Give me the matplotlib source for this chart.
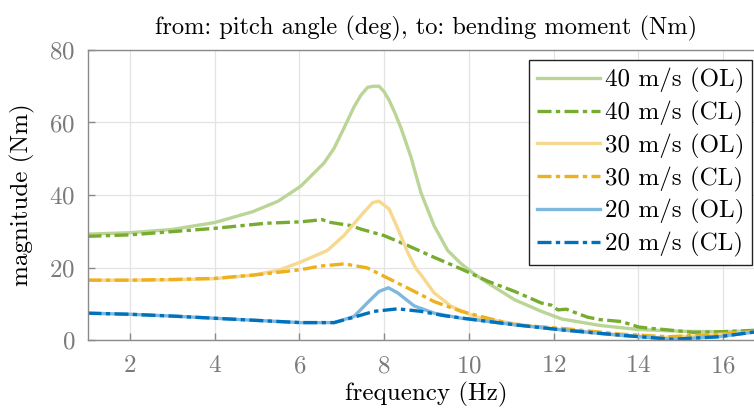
import numpy as np
import matplotlib.pyplot as plt

plt.rcParams['font.family'] = ['cmr10', 'DejaVu Serif']
plt.rcParams['mathtext.fontset'] = 'cm'
plt.rcParams['axes.unicode_minus'] = False
plt.rcParams['axes.formatter.use_mathtext'] = True

# values
f40_ol = [1.0, 2.0, 3.0, 4.0, 4.9, 5.5, 6.03, 6.58, 6.82, 7.05, 7.29, 7.45, 7.61, 7.75, 7.88, 8.0, 8.12, 8.26, 8.4,
          8.63, 8.87, 9.18, 9.5, 9.82, 10.13, 10.45, 11.08, 11.71, 12.19, 13.1, 14.0, 15.0, 16.0, 16.8]
m40_ol = [29.2, 29.6, 30.5, 32.4, 35.4, 38.3, 42.4, 48.8, 52.9, 58.4, 64.3, 67.5, 69.7, 70.0, 70.0, 68.5, 66.1, 62.5, 58.4,
          50.6, 40.6, 31.5, 24.7, 21.0, 18.2, 15.7, 11.1, 7.9, 5.8, 4.0, 2.9, 2.4, 2.3, 2.5]

f40_cl = [1.0, 2.0, 3.0, 4.0, 5.2, 6.03, 6.54, 6.7, 6.97, 7.2, 7.45, 8.0, 8.55, 9.18, 9.82, 10.45, 11.08, 11.71,
          11.95, 12.1, 12.3, 12.5, 12.8, 13.1, 13.6, 14.0, 14.3, 14.6, 15.3, 16.0, 16.8]
m40_cl = [28.6, 29.0, 29.9, 30.8, 32.2, 32.6, 33.2, 32.5, 32.0, 31.6, 30.6, 28.8, 26.1, 22.8, 19.6, 16.2, 13.4, 10.2,
          9.6, 8.3, 8.5, 7.6, 6.3, 5.6, 5.1, 3.6, 3.2, 2.9, 2.1, 2.3, 2.7]

f30_ol = [1.0, 2.0, 3.0, 4.0, 4.9, 5.5, 6.03, 6.66, 7.05, 7.45, 7.73, 7.88, 8.12, 8.36, 8.55, 8.75, 8.87, 9.18,
          9.58, 10.13, 10.76, 11.55, 12.19, 13.6, 14.5, 15.5, 16.8]
m30_ol = [16.5, 16.5, 16.6, 16.9, 17.9, 19.2, 21.5, 24.7, 28.8, 34.3, 37.9, 38.3, 36.1, 29.7, 24.3, 19.7, 18.0, 13.0,
          9.3, 6.5, 5.1, 3.7, 2.8, 1.2, 0.7, 1.2, 2.3]

f30_cl = [1.0, 2.0, 3.0, 4.0, 5.0, 6.03, 6.5, 7.06, 7.6, 8.08, 8.63, 9.18, 9.82, 10.45, 11.08, 12.19, 13.6, 14.7,
          15.9, 16.8]
m30_cl = [16.5, 16.5, 16.7, 17.0, 18.0, 19.4, 20.4, 21.0, 19.9, 17.1, 13.9, 10.6, 7.9, 6.0, 4.2, 3.2, 1.6, 0.9,
          1.6, 2.4]

f20_ol = [1.0, 2.0, 3.0, 4.0, 5.0, 6.03, 6.82, 7.29, 7.6, 7.88, 8.1, 8.32, 8.71, 9.18, 9.82, 10.13, 11.08, 12.19,
          13.6, 14.8, 15.9, 16.8]
m20_ol = [7.4, 7.1, 6.6, 6.0, 5.4, 4.8, 4.8, 6.5, 10.2, 13.4, 14.4, 13.0, 9.4, 7.4, 6.0, 5.6, 4.2, 2.8,
          1.3, 0.2, 0.9, 2.3]

f20_cl = [1.0, 2.0, 3.0, 4.0, 5.0, 6.03, 6.82, 7.29, 7.76, 8.32, 8.87, 9.42, 10.13, 11.08, 12.19, 13.6, 14.8,
          15.9, 16.8]
m20_cl = [7.4, 7.1, 6.6, 6.0, 5.4, 4.8, 4.8, 6.3, 7.9, 8.6, 7.9, 6.7, 5.6, 4.2, 2.8, 1.3, 0.2, 0.9, 2.3]

green = '#77AC30'
yellow = '#EDB120'
blue = '#0072BD'
green_l = '#BBD597'
yellow_l = '#F6D88F'
blue_l = '#7FB8DE'

dashdot = (0, (4.2, 1.3, 1.3, 1.3))

fig = plt.figure(figsize=(7.54, 4.15), dpi=100)
ax = fig.add_axes([87.5 / 754, 75 / 415, 678 / 754, 290 / 415])

lw = 2.4
ax.plot(f40_ol, m40_ol, color=green_l, lw=lw, label='40 m/s (OL)')
ax.plot(f40_cl, m40_cl, color=green, lw=lw, ls=dashdot, label='40 m/s (CL)')
ax.plot(f30_ol, m30_ol, color=yellow_l, lw=lw, label='30 m/s (OL)')
ax.plot(f30_cl, m30_cl, color=yellow, lw=lw, ls=dashdot, label='30 m/s (CL)')
ax.plot(f20_ol, m20_ol, color=blue_l, lw=lw, label='20 m/s (OL)')
ax.plot(f20_cl, m20_cl, color=blue, lw=lw, ls=dashdot, label='20 m/s (CL)')

ax.set_xlim(1, 17)
ax.set_ylim(0, 80)
ax.set_xticks([2, 4, 6, 8, 10, 12, 14, 16])
ax.set_yticks([0, 20, 40, 60, 80])
ax.grid(True, color='#E3E3E3', lw=0.9)
ax.set_axisbelow(True)
for s in ['left', 'bottom', 'top']:
    ax.spines[s].set_color('#8A8A8A')
    ax.spines[s].set_linewidth(1.0)
ax.spines['right'].set_visible(False)
ax.tick_params(direction='in', length=5, width=1, colors='#8A8A8A',
               labelcolor='#7A7A7A', labelsize=18, pad=9)
ax.tick_params(axis='x', pad=11)

ax.set_title('from: pitch angle (deg), to: bending moment (Nm)', fontsize=17.6, pad=11)
ax.set_xlabel('frequency (Hz)', fontsize=18, labelpad=3)
ax.set_ylabel('magnitude (Nm)', fontsize=18, labelpad=10)

leg = fig.legend(loc='upper right', bbox_to_anchor=(752 / 754, 1 - 60 / 415),
                 fontsize=18, frameon=True, fancybox=False, handlelength=2.5,
                 handletextpad=0.2, labelspacing=0.31, borderpad=0.32,
                 borderaxespad=0)
leg.get_frame().set_edgecolor('#222222')
leg.get_frame().set_linewidth(1.0)
leg.get_frame().set_alpha(1)

fig.savefig('out.png', dpi=100)
